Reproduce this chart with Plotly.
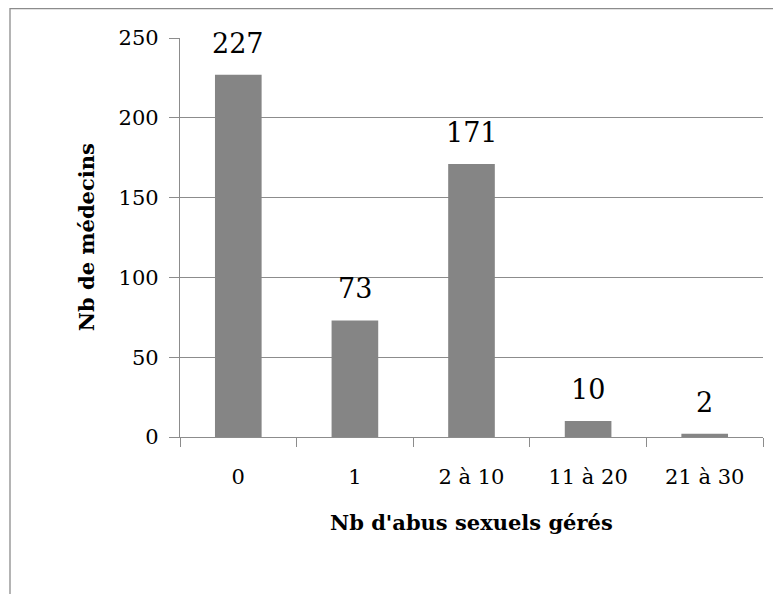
import plotly.graph_objects as go

categories = ["0", "1", "2 à 10", "11 à 20", "21 à 30"]
values = [227, 73, 171, 10, 2]
y_ticks = [0, 50, 100, 150, 200, 250]

FONT = "DejaVu Serif"
GRID = "#8c8c8c"

fig = go.Figure()
fig.add_trace(go.Bar(
    x=categories, y=values,
    marker=dict(color="#858585", line=dict(width=0)),
    hoverinfo="skip",
))

for c, v in zip(categories, values):
    fig.add_annotation(
        x=c, y=v, xref="x", yref="y", text=str(v), showarrow=False,
        yanchor="bottom", yshift=14,
        font=dict(family=FONT, size=27, color="#000000"),
    )

fig.add_annotation(
    x=0.5, y=-0.215, xref="paper", yref="paper", text="<b>Nb d'abus sexuels gérés</b>",
    showarrow=False, xanchor="center", yanchor="middle",
    font=dict(family=FONT, size=21, color="#000000"),
)
fig.add_annotation(
    x=-0.16, y=0.5, xref="paper", yref="paper", text="<b>Nb de médecins</b>",
    showarrow=False, xanchor="center", yanchor="middle", textangle=-90,
    font=dict(family=FONT, size=21, color="#000000"),
)

fig.add_shape(
    type="rect", xref="paper", yref="paper",
    x0=-0.2916, y0=-0.6, x1=1.2, y1=1.0739,
    line=dict(color="#8c8c8c", width=1.3), fillcolor="rgba(0,0,0,0)", layer="below",
)

fig.update_layout(
    width=773, height=586,
    margin=dict(l=172, r=18, t=30, b=157),
    paper_bgcolor="white", plot_bgcolor="white",
    bargap=0.6, showlegend=False,
    font=dict(family=FONT, size=21, color="#000000"),
)
fig.update_xaxes(
    type="category", showgrid=False, showline=True, linecolor=GRID, linewidth=1.3,
    ticks="outside", tickson="boundaries", ticklen=9, tickcolor=GRID, tickwidth=1.3,
    tickfont=dict(family=FONT, size=21), ticklabelstandoff=21,
)
fig.update_yaxes(
    range=[0, 250], tickvals=y_ticks, showgrid=True, gridcolor=GRID, gridwidth=1.3,
    showline=True, linecolor=GRID, linewidth=1.3, zeroline=False,
    ticks="outside", ticklen=10, tickcolor=GRID, tickwidth=1.3,
    tickfont=dict(family=FONT, size=21), ticklabelstandoff=6,
)

fig.write_html("out.html")
